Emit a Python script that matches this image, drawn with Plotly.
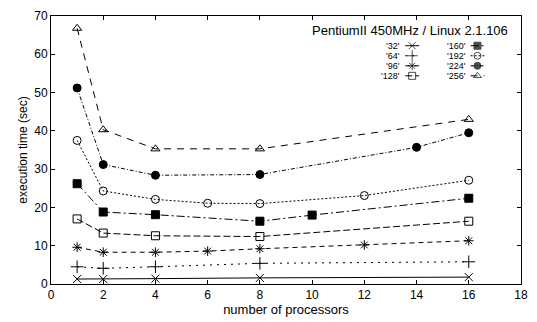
import plotly.graph_objects as go

# ---- data ----
series_names = ["'32'", "'64'", "'96'", "'128'", "'160'", "'192'", "'224'", "'256'"]

x_32 = [1, 2, 4, 8, 16]
y_32 = [1.3, 1.3, 1.4, 1.6, 1.8]

x_64 = [1, 2, 4, 8, 16]
y_64 = [4.5, 4.1, 4.5, 5.4, 5.8]

x_96 = [1, 2, 4, 6, 8, 12, 16]
y_96 = [9.6, 8.3, 8.3, 8.6, 9.2, 10.2, 11.3]

x_128 = [1, 2, 4, 8, 16]
y_128 = [17.0, 13.3, 12.6, 12.4, 16.4]

x_160 = [1, 2, 4, 8, 10, 16]
y_160 = [26.2, 18.8, 18.1, 16.4, 18.0, 22.4]

x_192 = [1, 2, 4, 6, 8, 12, 16]
y_192 = [37.5, 24.3, 22.1, 21.1, 21.0, 23.1, 27.1]

x_224 = [1, 2, 4, 8, 14, 16]
y_224 = [51.2, 31.2, 28.4, 28.6, 35.7, 39.5]

x_256 = [1, 2, 4, 8, 16]
y_256 = [66.8, 40.3, 35.3, 35.3, 43.0]

x_ticks = [0, 2, 4, 6, 8, 10, 12, 14, 16, 18]
y_ticks = [0, 10, 20, 30, 40, 50, 60, 70]

title_text = "PentiumII 450MHz / Linux 2.1.106"
x_title = "number of processors"
y_title = "execution time (sec)"

# ---- styles ----
symbols = ["x-thin-open", "cross-thin-open", "asterisk-open", "square-open",
           "square", "circle-open", "circle", "triangle-up-open"]
sizes = [8, 9, 8, 8, 8, 8, 8, 8]
dashes = ["solid", "2px,5px", "5px,4px", "7px,3px", "8px,3px,2px,3px",
          "2px,2px", "4px,2px,1px,2px", "7px,6px"]

xs = [x_32, x_64, x_96, x_128, x_160, x_192, x_224, x_256]
ys = [y_32, y_64, y_96, y_128, y_160, y_192, y_224, y_256]

FONT = "Liberation Sans, Arial, Helvetica, sans-serif"
W, H = 537, 322
L, R, T, B = 51, 11, 9, 38
PW, PH = W - L - R, H - T - B

fig = go.Figure()
for i in range(8):
    fig.add_trace(go.Scatter(
        x=xs[i], y=ys[i], mode="lines+markers", name=series_names[i],
        line=dict(color="black", width=1, dash=dashes[i]),
        marker=dict(symbol=symbols[i], size=sizes[i], color="black",
                    line=dict(color="black", width=1)),
        showlegend=False))

# ---- manual legend (label text left of the sample, as in the reference) ----
def px2paper_x(px):
    return (px - L) / PW

def px2paper_y(py):
    return (H - B - py) / PH

row_y = [39.5, 49.8, 60.1, 70.4]
cols = [(406, 409, 423), (472, 475, 489)]
annotations = []
for i in range(8):
    col = i // 4
    row = i % 4
    lab_x, l1, l2 = cols[col]
    yy = px2paper_y(row_y[row])
    annotations.append(dict(
        x=px2paper_x(lab_x), y=yy, xref="paper", yref="paper",
        text=series_names[i], showarrow=False, xanchor="right", yanchor="middle",
        font=dict(family=FONT, size=9, color="black")))
    fig.add_trace(go.Scatter(
        x=[px2paper_x(l1), px2paper_x((l1 + l2) / 2), px2paper_x(l2)],
        y=[yy, yy, yy], xaxis="x2", yaxis="y2", mode="lines+markers",
        line=dict(color="black", width=1, dash=dashes[i]),
        marker=dict(symbol=symbols[i], size=[0, sizes[i] - 1, 0], color="black",
                    line=dict(color="black", width=1)),
        showlegend=False, hoverinfo="skip"))

annotations.append(dict(
    x=px2paper_x(515), y=px2paper_y(24), xref="paper", yref="paper",
    text=title_text, showarrow=False, xanchor="right", yanchor="middle",
    font=dict(family=FONT, size=13, color="black")))

axis_common = dict(showgrid=False, zeroline=False, showline=True, mirror="ticks",
                   linecolor="black", linewidth=1, ticks="inside", ticklen=4,
                   tickcolor="black", tickfont=dict(family=FONT, size=12, color="black"))

fig.update_layout(
    width=W, height=H,
    margin=dict(l=L, r=R, t=T, b=B),
    paper_bgcolor="white", plot_bgcolor="white",
    font=dict(family=FONT, size=12, color="black"),
    xaxis=dict(range=[0, 18], tickvals=x_ticks, ticktext=[str(v) for v in x_ticks],
               title=dict(text=x_title, font=dict(family=FONT, size=13), standoff=1),
               **axis_common),
    yaxis=dict(range=[0, 70], tickvals=y_ticks, ticktext=[str(v) for v in y_ticks],
               title=dict(text=y_title, font=dict(family=FONT, size=12), standoff=4),
               **axis_common),
    xaxis2=dict(range=[0, 1], domain=[0, 1], overlaying="x", visible=False, fixedrange=True),
    yaxis2=dict(range=[0, 1], domain=[0, 1], overlaying="y", visible=False, fixedrange=True),
    annotations=annotations,
)

fig.write_html("out.html")
